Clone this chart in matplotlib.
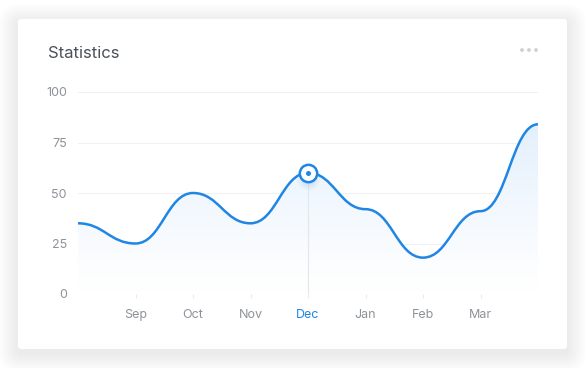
import matplotlib
matplotlib.use("Agg")
import matplotlib.pyplot as plt
import numpy as np
from matplotlib.path import Path
from matplotlib.patches import PathPatch, FancyBboxPatch, Circle
from matplotlib.colors import LinearSegmentedColormap

months = ["Aug", "Sep", "Oct", "Nov", "Dec", "Jan", "Feb", "Mar", "Apr"]
values = [35, 25, 50, 35, 60, 42, 18, 41, 84]
shown_ticks = ["Sep", "Oct", "Nov", "Dec", "Jan", "Feb", "Mar"]
highlight = "Dec"
y_ticks = [0, 25, 50, 75, 100]

BLUE = "#1f86e3"
GRAY = "#8e9299"
plt.rcParams["font.family"] = ["Inter", "DejaVu Sans"]

W, H = 586, 368
fig = plt.figure(figsize=(W / 100, H / 100), dpi=100)
fig.patch.set_facecolor("white")

# card with soft shadow
bg = fig.add_axes([0, 0, 1, 1])
bg.set_xlim(0, W)
bg.set_ylim(H, 0)
bg.axis("off")
for i in range(20, 0, -1):
    bg.add_patch(FancyBboxPatch((18 - i, 19 - i + 4), 549 + 2 * i, 330 + 2 * i,
                                boxstyle="round,pad=0,rounding_size=%d" % (3 + i),
                                fc="#000000", ec="none", alpha=0.0035))
bg.add_patch(FancyBboxPatch((18, 19), 549, 330, boxstyle="round,pad=0,rounding_size=3",
                            fc="white", ec="none"))
bg.text(48, 53, "Statistics", fontsize=12, color="#4b505c", va="center", ha="left")
for dx in (522, 529, 536):
    bg.add_patch(Circle((dx, 50), 1.9, fc="#cdd0d6", ec="none"))

# chart axes
x0, x1 = 78, 538
yb, yt = 294, 92
ax = fig.add_axes([x0 / W, (H - yb) / H, (x1 - x0) / W, (yb - yt) / H])
ax.set_facecolor("none")
x = np.arange(len(months))
ax.set_xlim(x[0], x[-1])
ax.set_ylim(0, 100)

# smooth curve through the points, horizontal bezier handles
k = 0.45
verts = [(x[0], values[0])]
codes = [Path.MOVETO]
for i in range(len(x) - 1):
    d = x[i + 1] - x[i]
    verts += [(x[i] + k * d, values[i]), (x[i + 1] - k * d, values[i + 1]), (x[i + 1], values[i + 1])]
    codes += [Path.CURVE4] * 3
line_path = Path(verts, codes)
fill_path = Path(verts + [(x[-1], 0), (x[0], 0), (x[0], values[0])],
                 codes + [Path.LINETO, Path.LINETO, Path.CLOSEPOLY])

# gradient fill
cmap = LinearSegmentedColormap.from_list("fade", ["#ffffff", "#dcecfc"])
grad = np.linspace(0, 1, 200).reshape(-1, 1) ** 1.2
im = ax.imshow(grad, extent=[x[0], x[-1], 0, 100], origin="lower", aspect="auto",
               cmap=cmap, zorder=1)
clip = PathPatch(fill_path, fc="none", ec="none", transform=ax.transData)
ax.add_patch(clip)
im.set_clip_path(clip)

for t in y_ticks:
    ax.axhline(t, color="#eef0f3", lw=0.8, zorder=0.5)

hi = months.index(highlight)
ax.plot([x[hi], x[hi]], [0, values[hi]], color="#e3e6eb", lw=0.8, zorder=2)

ax.add_patch(PathPatch(line_path, fc="none", ec=BLUE, lw=1.8, zorder=3,
                       capstyle="round", joinstyle="round"))

# glow + marker
for r, a in [(16, 0.03), (13, 0.04), (10, 0.05)]:
    ax.plot(x[hi], values[hi] - 3, "o", ms=r, color=BLUE, alpha=a, mec="none", zorder=3.5)
ax.plot(x[hi], values[hi], "o", ms=12.5, mfc="white", mec=BLUE, mew=1.8, zorder=4)
ax.plot(x[hi], values[hi], "o", ms=3.6, color=BLUE, mec="none", zorder=5)

for s in ax.spines.values():
    s.set_visible(False)
ax.set_yticks(y_ticks)
ax.set_yticklabels([str(t) for t in y_ticks])
ax.tick_params(axis="y", length=0, pad=8, labelsize=9, labelcolor=GRAY)
ticks = [months.index(m) for m in shown_ticks]
ax.set_xticks(ticks)
ax.set_xticklabels(shown_ticks)
ax.tick_params(axis="x", length=3, width=0.8, color="#e8eaee", pad=8, labelsize=9, labelcolor=GRAY)
for lab in ax.get_xticklabels():
    if lab.get_text() == highlight:
        lab.set_color(BLUE)

fig.savefig("out.png", dpi=100, facecolor="white")
